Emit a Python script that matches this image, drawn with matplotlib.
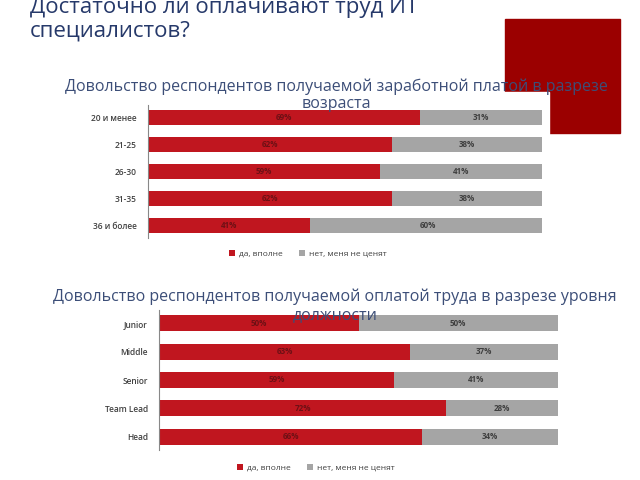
import matplotlib.pyplot as plt
from matplotlib.patches import Rectangle

plt.rcParams['font.family'] = ['Open Sans', 'DejaVu Sans']

# data
age_groups = ['20 и менее', '21-25', '26-30', '31-35', '36 и более']
age_yes = [69, 62, 59, 62, 41]
age_no = [31, 38, 41, 38, 60]

levels = ['Junior', 'Middle', 'Senior', 'Team Lead', 'Head']
level_yes = [50, 63, 59, 72, 66]
level_no = [50, 37, 41, 28, 34]

legend_labels = ['да, вполне', 'нет, меня не ценят']

RED = '#C0161F'
GRAY = '#A5A5A5'
W, H = 640, 480

fig = plt.figure(figsize=(6.4, 4.8), dpi=100)

# decorative red block and white chart-picture background
fig.add_artist(Rectangle((505 / W, 1 - 133 / H), 115 / W, 114 / H,
                         transform=fig.transFigure, color='#9B0000', zorder=0))
fig.add_artist(Rectangle((60 / W, 1 - 272 / H), 489 / W, 180 / H,
                         transform=fig.transFigure, color='white', zorder=1))

# slide title (first line is cut by the top edge, as on the slide)
fig.text(30 / W, 1 - 13 / H, 'Достаточно ли оплачивают труд ИТ', fontsize=16,
         color='#26396A', ha='left', va='baseline', zorder=5)
fig.text(30 / W, 1 - 37 / H, 'специалистов?', fontsize=16,
         color='#26396A', ha='left', va='baseline', zorder=5)


def draw_chart(left, right, top, bottom, cats, yes, no, leg_x, leg_y):
    ax = fig.add_axes([left / W, 1 - bottom / H, (right - left) / W, (bottom - top) / H],
                      zorder=3)
    ax.patch.set_alpha(0)
    pos = list(range(len(cats)))
    ax.barh(pos, yes, height=0.56, color=RED, label=legend_labels[0])
    ax.barh(pos, no, left=yes, height=0.56, color=GRAY, label=legend_labels[1])
    for p, a, b in zip(pos, yes, no):
        ax.text(a / 2, p, f'{a}%', ha='center', va='center', fontsize=5.8,
                fontweight='bold', color='#6E1015')
        ax.text(a + b / 2, p, f'{b}%', ha='center', va='center', fontsize=5.8,
                fontweight='bold', color='#3F3F3F')
    ax.set_xlim(0, 100)
    ax.set_ylim(len(cats) - 1 + 0.46, -0.46)
    ax.set_yticks(pos)
    ax.set_yticklabels(cats, fontsize=6, color='#404040', fontweight='semibold')
    ax.tick_params(axis='y', length=0, pad=8)
    ax.set_xticks([])
    for s in ['top', 'right', 'bottom']:
        ax.spines[s].set_visible(False)
    ax.spines['left'].set_color('#888888')
    ax.spines['left'].set_linewidth(0.8)
    ax.legend(loc='center left', bbox_to_anchor=(leg_x, leg_y), ncol=2, frameon=False,
              fontsize=6, handlelength=0.7, handleheight=0.7, columnspacing=2.0,
              handletextpad=0.5, labelcolor='#404040', borderpad=0, borderaxespad=0)
    return ax


draw_chart(148, 542, 105, 238, age_groups, age_yes, age_no, 0.205, -0.12)
draw_chart(159, 558, 310, 450, levels, level_yes, level_no, 0.195, -0.13)

# chart titles
title_color = '#3C4E78'
fig.text(336 / W, 1 - 87 / H, 'Довольство респондентов получаемой заработной платой в разрезе',
         fontsize=11.5, color=title_color, ha='center', va='center', zorder=6)
fig.text(336 / W, 1 - 104 / H, 'возраста', fontsize=11.5, color=title_color,
         ha='center', va='center', zorder=6)
fig.text(335 / W, 1 - 297 / H, 'Довольство респондентов получаемой оплатой труда в разрезе уровня',
         fontsize=11.5, color=title_color, ha='center', va='center', zorder=6)
fig.text(335 / W, 1 - 315 / H, 'должности', fontsize=11.5, color=title_color,
         ha='center', va='center', zorder=6)

fig.savefig('out.png', dpi=100)
